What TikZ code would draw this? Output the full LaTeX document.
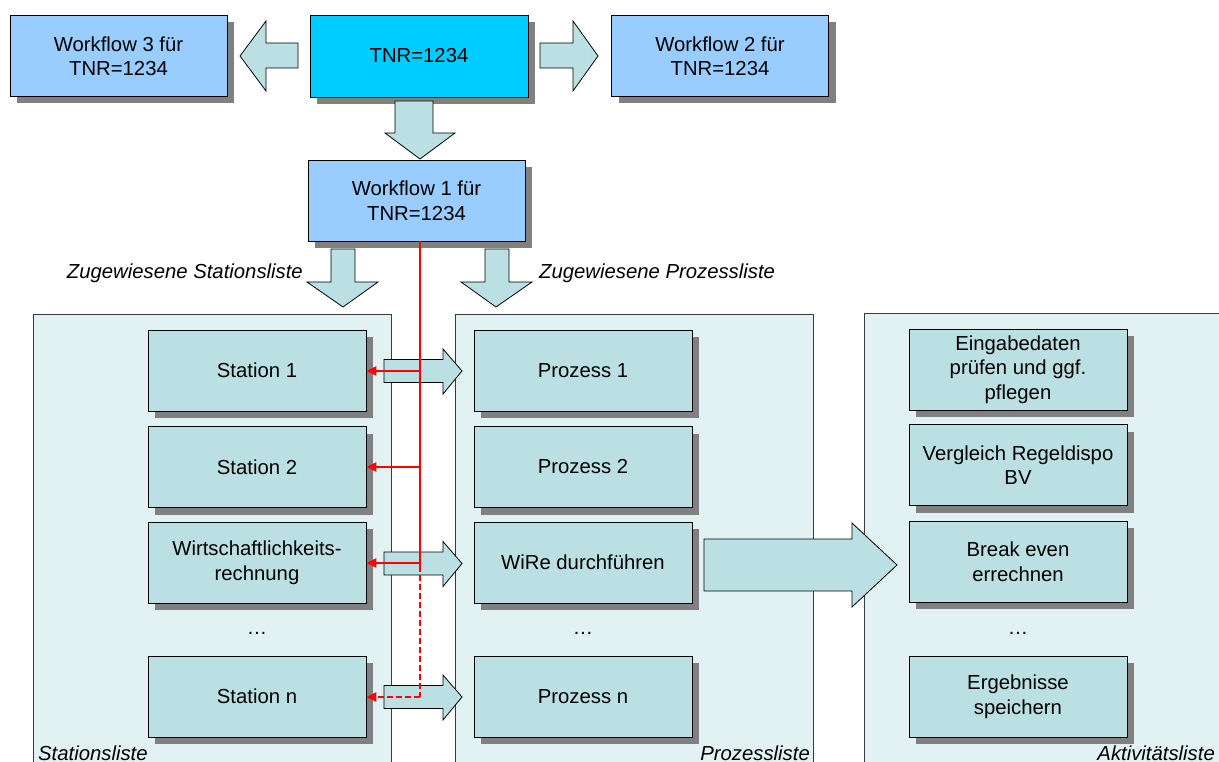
\documentclass[tikz,border=0pt]{standalone}
\usepackage{fontspec}
\setmainfont{Liberation Sans}
\usetikzlibrary{shadows,arrows.meta}

\definecolor{wfblue}{HTML}{99CCFF}
\definecolor{tnrcyan}{HTML}{00CCFF}
\definecolor{boxteal}{HTML}{BBE0E3}
\definecolor{panelbg}{HTML}{E2F2F3}
\definecolor{shadowgray}{HTML}{808080}
\definecolor{linkred}{HTML}{FF0000}
\definecolor{framegray}{HTML}{3A3A3A}

\tikzset{
  boxshadow/.style={drop shadow={shadow xshift=7pt,shadow yshift=-7pt,fill=shadowgray,opacity=1}},
  basebox/.style={draw=black,line width=0.8pt,boxshadow,align=center,inner sep=2pt,
    font=\fontsize{20.3}{24.5}\selectfont},
  wfbox/.style={basebox,fill=wfblue,minimum width=217,minimum height=81},
  tnrbox/.style={basebox,fill=tnrcyan,minimum width=218,minimum height=82},
  itembox/.style={basebox,fill=boxteal,minimum width=218,minimum height=81},
  panel/.style={draw=framegray,line width=0.8pt,fill=panelbg,anchor=north west,inner sep=0pt},
  blockarrow/.style={draw=black,line width=0.8pt,fill=boxteal,line join=miter},
  link/.style={draw=linkred,line width=2.4pt,-{Triangle[length=10pt,width=9pt]}},
  bus/.style={draw=linkred,line width=2.4pt},
  dashedlink/.style={dash pattern=on 6pt off 3pt},
  caption/.style={inner sep=0pt,font=\fontsize{20.3}{24.5}\selectfont\itshape},
  dots/.style={inner sep=0pt,font=\fontsize{20.3}{24.5}\selectfont},
}

% horizontal block arrow between the station and process columns, centred on y=#1
\newcommand{\rowblockarrow}[1]{%
  \draw[blockarrow] (384,{#1-11.5}) -- (443,{#1-11.5}) -- (443,{#1-22}) -- (462,{#1})
    -- (443,{#1+23}) -- (443,{#1+11.5}) -- (384,{#1+11.5}) -- cycle;}

\begin{document}
\begin{tikzpicture}[x=1pt,y=-1pt]
\useasboundingbox (0,0) rectangle (1219,762);
\clip (0,0) rectangle (1219,762);

% the three list panels run off the lower edge
\node[panel,minimum width=358,minimum height=480] (stpanel) at (33,314) {};
\node[panel,minimum width=358,minimum height=480] (prpanel) at (455,314) {};
\node[panel,minimum width=380,minimum height=480] (akpanel) at (864,313) {};

% top row
\node[wfbox] (wf3) at (118.5,56) {Workflow 3 für\\TNR=1234};
\node[tnrbox] (tnr) at (419,56) {TNR=1234};
\node[wfbox] (wf2) at (720,56) {Workflow 2 für\\TNR=1234};
\node[wfbox] (wf1) at (416.5,200.5) {Workflow 1 für\\TNR=1234};

% block arrows from the part number
\draw[blockarrow] (298,43) -- (266,43) -- (266,21) -- (240,56) -- (266,91) -- (266,68) -- (298,68) -- cycle;
\draw[blockarrow] (540,43) -- (573,43) -- (573,21) -- (598,56) -- (573,91) -- (573,68) -- (540,68) -- cycle;
\draw[blockarrow] (395,101) -- (433,101) -- (433,133) -- (455,133) -- (420,159) -- (385,133) -- (395,133) -- cycle;

% assigned lists
\draw[blockarrow] (331,249) -- (355,249) -- (355,282) -- (378,282) -- (343,307) -- (307,282) -- (331,282) -- cycle;
\draw[blockarrow] (485,249) -- (509,249) -- (509,282) -- (532,282) -- (496,307) -- (461,282) -- (485,282) -- cycle;
\node[caption,anchor=east] (capst) at (303,273) {Zugewiesene Stationsliste};
\node[caption,anchor=west] (cappr) at (539,273) {Zugewiesene Prozessliste};

% station list
\node[itembox] (st1) at (257,370.5) {Station 1};
\node[itembox] (st2) at (257,467) {Station 2};
\node[itembox] (st3) at (257,562.5) {Wirtschaftlichkeits-\\rechnung};
\node[dots] (stdots) at (257,633) {…};
\node[itembox] (stn) at (257,696.5) {Station n};

% process list
\node[itembox] (pr1) at (583,370.5) {Prozess 1};
\node[itembox] (pr2) at (583,467) {Prozess 2};
\node[itembox] (pr3) at (583,562.5) {WiRe durchführen};
\node[dots] (prdots) at (583,633) {…};
\node[itembox] (prn) at (583,696.5) {Prozess n};

% activity list
\node[itembox] (ak1) at (1018,369.5) {Eingabedaten\\prüfen und ggf.\\pflegen};
\node[itembox] (ak2) at (1018,465) {Vergleich Regeldispo\\BV};
\node[itembox] (ak3) at (1018,561.5) {Break even\\errechnen};
\node[dots] (akdots) at (1018,633) {…};
\node[itembox] (akn) at (1018,696.5) {Ergebnisse\\speichern};

% station -> process arrows
\rowblockarrow{371}
\rowblockarrow{563.5}
\rowblockarrow{697}

% process -> activity arrow
\draw[blockarrow] (704,539) -- (852,539) -- (852,523) -- (897,565) -- (852,607) -- (852,591) -- (704,591) -- cycle;

% red assignment links from workflow 1 to the stations
\coordinate (bustop) at (420,241);
\coordinate (j1) at (420,371);
\coordinate (j2) at (420,467);
\coordinate (j3) at (420,563);
\coordinate (j3b) at (420,566);
\coordinate (j4) at (420,697);
\draw[bus] (bustop) -- (j3b);
\draw[bus,dashedlink] (j3b) -- (j4);
\draw[link] (j1) -- (j1 -| st1.east);
\draw[link] (j2) -- (j2 -| st2.east);
\draw[link] (j3) -- (j3 -| st3.east);
\draw[link,dashedlink] (j4) -- (j4 -| stn.east);

% panel captions
\node[caption,anchor=base west] (stcap) at (38,760) {Stationsliste};
\node[caption,anchor=base east] (prcap) at (810,760) {Prozessliste};
\node[caption,anchor=base east] (akcap) at (1215,760) {Aktivitätsliste};
\end{tikzpicture}
\end{document}
